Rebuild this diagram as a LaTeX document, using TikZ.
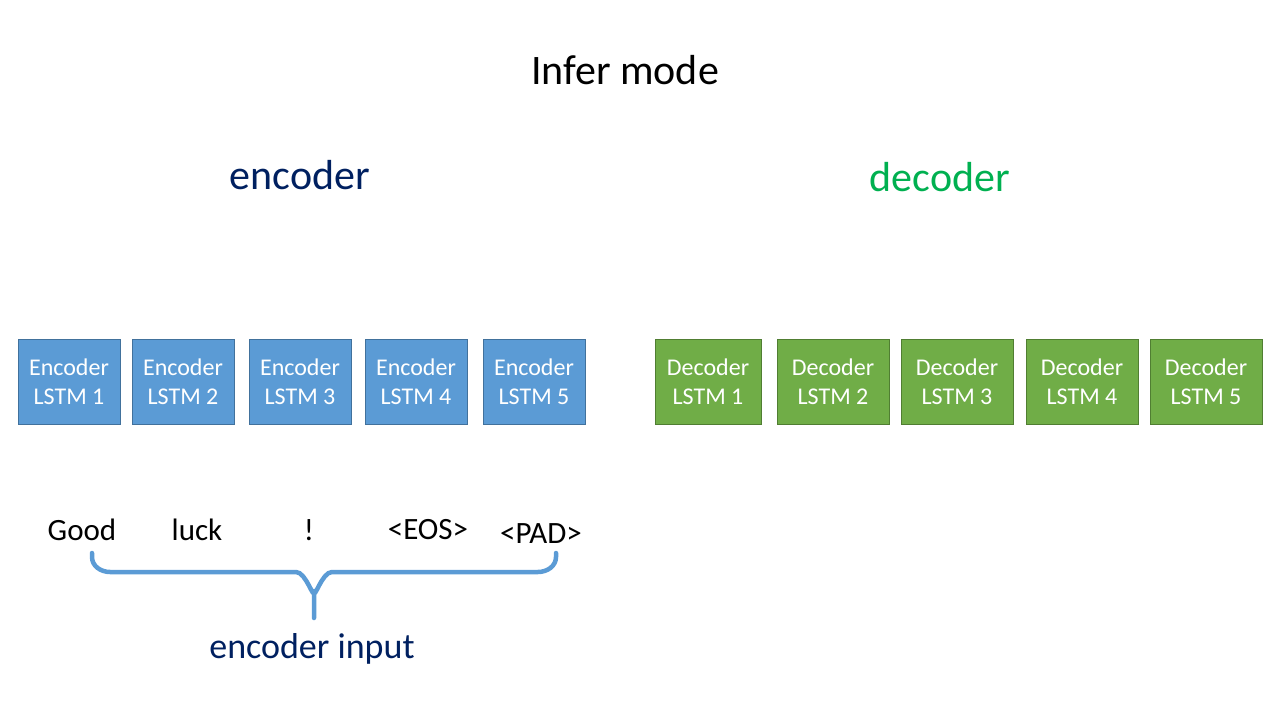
\documentclass[tikz,border=0pt]{standalone}
\usepackage{fontspec}
\setmainfont{Carlito}
\usetikzlibrary{calc}

\definecolor{encfill}{HTML}{5B9BD5}
\definecolor{encline}{HTML}{41719C}
\definecolor{decfill}{HTML}{70AD47}
\definecolor{decline}{HTML}{507E32}
\definecolor{navy}{HTML}{002060}
\definecolor{grn}{HTML}{00B050}

\tikzset{
  lstm/.style={thick,draw,align=center,text=white,inner sep=0pt,
    minimum height=85pt,font=\fontsize{24}{29}\selectfont},
  encbox/.style={lstm,fill=encfill,draw=encline,minimum width=102pt},
  decbox/.style={lstm,fill=decfill,draw=decline,minimum width=112pt},
  word/.style={font=\fontsize{31}{36}\selectfont},
  heading/.style={font=\fontsize{42}{48}\selectfont},
  brace/.style={draw=encfill,line width=4.5pt,line cap=round}
}

\begin{document}
\begin{tikzpicture}[x=1pt,y=-1pt]
\useasboundingbox (0,0) rectangle (1280,720);

\node [heading] at (625,70) (title) {Infer mode};
\node [heading,text=navy] at (300,175) (enc) {encoder};
\node [heading,text=grn] at (940,177) (dec) {decoder};

\node [encbox] at (69,382) (e1) {Encoder\\LSTM 1};
\node [encbox] at (183,382) (e2) {Encoder\\LSTM 2};
\node [encbox] at (300,382) (e3) {Encoder\\LSTM 3};
\node [encbox] at (416,382) (e4) {Encoder\\LSTM 4};
\node [encbox] at (534,382) (e5) {Encoder\\LSTM 5};

\node [decbox,minimum width=106pt] at (708,382) (d1) {Decoder\\LSTM 1};
\node [decbox] at (833,382) (d2) {Decoder\\LSTM 2};
\node [decbox] at (957,382) (d3) {Decoder\\LSTM 3};
\node [decbox] at (1082,382) (d4) {Decoder\\LSTM 4};
\node [decbox] at (1206,382) (d5) {Decoder\\LSTM 5};

\node [word] at (82,530) (w1) {Good};
\node [word] at (197,530) (w2) {luck};
\node [word] at (309,530) (w3) {!};
\node [word] at (428,530) (w4) {<EOS>};
\node [word] at (541,534) (w5) {<PAD>};

% curly brace under the input words
\coordinate (bl) at (92,553);
\coordinate (br) at (556,553);
\coordinate (tip) at (314,618);
\draw [brace] (bl) -- ($(bl)+(0,4)$)
  to[out=-90,in=180] ($(bl)+(18,19)$) -- ($(tip)+(-18,-46)$)
  to[out=0,in=-90] ($(tip)+(0,-27)$) -- (tip);
\draw [brace] (br) -- ($(br)+(0,4)$)
  to[out=-90,in=0] ($(br)+(-18,19)$) -- ($(tip)+(18,-46)$)
  to[out=180,in=-90] ($(tip)+(0,-27)$);

\node [font=\fontsize{36}{42}\selectfont,text=navy] at (312,649) (inp) {encoder input};

\end{tikzpicture}
\end{document}
